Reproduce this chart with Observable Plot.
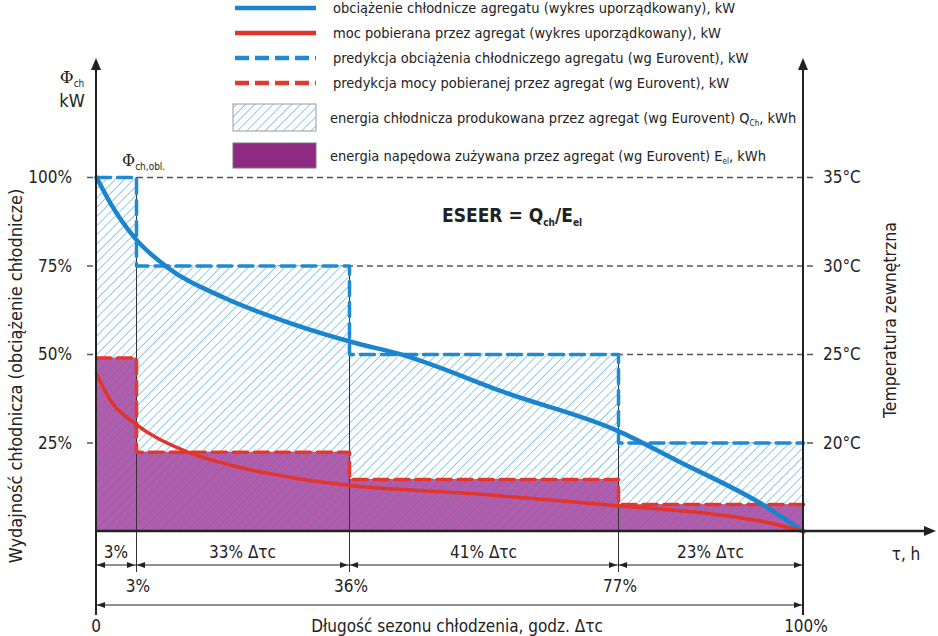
<!DOCTYPE html>
<html><head><meta charset="utf-8">
<script src="https://cdn.jsdelivr.net/npm/d3@7"></script>
<script src="https://cdn.jsdelivr.net/npm/@observablehq/plot@0.6"></script>
<style>
body{margin:0;background:#fff;}
#wrap{position:relative;width:938px;height:636px;overflow:hidden;}
#wrap svg{position:absolute;left:0;top:0;}
</style></head><body>
<svg width="0" height="0" style="position:absolute">
<defs>
<pattern id="hatchBlue" patternUnits="userSpaceOnUse" width="6.5" height="6.5" patternTransform="rotate(45)">
<rect width="6.5" height="6.5" fill="#ffffff"/>
<line x1="0" y1="0" x2="0" y2="6.5" stroke="#62b3e3" stroke-width="1.4"/>
</pattern>
<pattern id="hatchPurple" patternUnits="userSpaceOnUse" width="6.5" height="6.5" patternTransform="rotate(45)">
<rect width="6.5" height="6.5" fill="#b35ca9"/>
<line x1="0" y1="0" x2="0" y2="6.5" stroke="#7467c4" stroke-width="1.4"/>
</pattern>
</defs></svg>
<div id="wrap"></div>
<script>
// ---- data ----
const boundaries = [0, 3, 36, 77, 100];            // % of cooling season
const segmentLabels = ["3%", "33% Δτc", "41% Δτc", "23% Δτc"];
const cumulativeLabels = ["3%", "36%", "77%"];
const loadSteps = [100, 75, 50, 25];               // Eurovent load prediction, %
const powerSteps = [49, 22.4, 14.7, 7.6];          // Eurovent power prediction, %
const loadX = [0, 1.05, 2.9, 7.8, 16.5, 26.9, 37.2, 43.3, 60.1, 76.8, 84.3, 94.7, 100];
const loadY = [100, 92.7, 82.8, 74.6, 66.1, 58.8, 53.1, 50.3, 39, 28.5, 20, 7.9, 0];
const powerX = [0, 1.05, 2.9, 10.3, 19.1, 27.9, 36.15, 54.9, 76.8, 88.1, 94.3, 100];
const powerY = [44.6, 37, 30.5, 22.9, 18.1, 15, 13, 10.7, 7.3, 5.1, 3.1, 0];
const yTicks = [25, 50, 75, 100];
const yTickLabels = ["25%", "50%", "75%", "100%"];
const temps = [20, 25, 30, 35];
const tempLabels = ["20°C", "25°C", "30°C", "35°C"];
const legendItems = [
  "obciążenie chłodnicze agregatu (wykres uporządkowany), kW",
  "moc pobierana przez agregat (wykres uporządkowany), kW",
  "predykcja obciążenia chłodniczego agregatu (wg Eurovent), kW",
  "predykcja mocy pobieranej przez agregat (wg Eurovent), kW"
];

const FONT = '"Liberation Sans Narrow","DejaVu Sans Condensed","Arial Narrow",sans-serif';
const BLUE = "#1a84cf", RED = "#e3342a", DBLUE = "#1f8ad4", DRED = "#e5382c";

const segs = loadSteps.map((v, i) => ({x1: boundaries[i], x2: boundaries[i + 1], load: v, power: powerSteps[i]}));
const stepLine = vals => [...vals.map((v, i) => ({x: boundaries[i], y: v})), {x: 100, y: vals[vals.length - 1]}];
const loadCurve = loadX.map((x, i) => ({x, y: loadY[i]}));
const powerCurve = powerX.map((x, i) => ({x, y: powerY[i]}));
const inner = boundaries.slice(1, -1).map((b, i) => ({x: b, top: loadSteps[i]}));
const tempToY = t => 25 + (t - 20) * 5;

function annotations(index, scales, values, dim) {
  const X = scales.x, Y = scales.y;
  const g = d3.create("svg:g").attr("font-family", FONT).attr("fill", "#222").attr("text-anchor", "start");
  const x0 = X(0), x1 = X(100), y0 = Y(0);
  const topY = 60, botY = 615;
  const ink = "#222";
  // axes
  g.append("line").attr("x1", x0).attr("x2", x0).attr("y1", topY + 4).attr("y2", botY).attr("stroke", ink).attr("stroke-width", 2);
  g.append("line").attr("x1", x1).attr("x2", x1).attr("y1", topY + 4).attr("y2", botY).attr("stroke", ink).attr("stroke-width", 2);
  g.append("line").attr("x1", x0).attr("x2", 930).attr("y1", y0).attr("y2", y0).attr("stroke", ink).attr("stroke-width", 2.5);
  const tri = (x, y, dir, L, W) => {
    let p;
    if (dir === "up") p = [[x, y], [x - W, y + L], [x + W, y + L]];
    if (dir === "right") p = [[x, y], [x - L, y - W], [x - L, y + W]];
    if (dir === "left") p = [[x, y], [x + L, y - W], [x + L, y + W]];
    g.append("path").attr("d", "M" + p.map(q => q.join(",")).join("L") + "Z").attr("fill", ink);
  };
  tri(x0, topY - 2, "up", 12, 5);
  tri(x1, topY - 2, "up", 12, 5);
  tri(936, y0, "right", 12, 5);
  // tick labels
  yTicks.forEach((t, i) => g.append("text").attr("x", x0 - 24).attr("y", Y(t)).attr("dy", "0.36em").attr("text-anchor", "end").attr("font-size", 17).text(yTickLabels[i]));
  temps.forEach((t, i) => g.append("text").attr("x", x1 + 20).attr("y", Y(tempToY(t))).attr("dy", "0.36em").attr("text-anchor", "start").attr("font-size", 17).text(tempLabels[i]));
  // axis titles
  g.append("text").attr("transform", `translate(22,${376}) rotate(-90)`).attr("text-anchor", "middle").attr("font-size", 18).text("Wydajność chłodnicza (obciążenie chłodnicze)");
  g.append("text").attr("transform", `translate(896,${320}) rotate(-90)`).attr("text-anchor", "middle").attr("font-size", 17.5).text("Temperatura zewnętrzna");
  // Phi labels
  const t1 = g.append("text").attr("x", x0 - 24).attr("y", 83).attr("font-size", 18).attr("text-anchor", "middle");
  t1.append("tspan").text("Φ").attr("font-family", "DejaVu Serif, serif").attr("font-size", 17);
  t1.append("tspan").text("ch").attr("font-size", 10).attr("dy", 4);
  g.append("text").attr("x", x0 - 24).attr("y", 107).attr("font-size", 18).attr("text-anchor", "middle").text("kW");
  const t2 = g.append("text").attr("x", X(3) - 14).attr("y", Y(100) - 11).attr("font-size", 17).attr("text-anchor", "start");
  t2.append("tspan").text("Φ").attr("font-family", "DejaVu Serif, serif").attr("font-size", 16);
  t2.append("tspan").text("ch,obl.").attr("font-size", 10).attr("dy", 4);
  // ESEER
  const e = g.append("text").attr("x", 442).attr("y", 222).attr("font-size", 19).attr("font-weight", "bold").attr("text-anchor", "start");
  e.append("tspan").text("ESEER = Q");
  e.append("tspan").text("ch").attr("font-size", 10).attr("dy", 4);
  e.append("tspan").text("/E").attr("dy", -4);
  e.append("tspan").text("el").attr("font-size", 10).attr("dy", 4);
  // dimension rows
  const r1 = 565, r3 = 605;
  const dimLine = (a, b, y) => {
    g.append("line").attr("x1", a).attr("x2", b).attr("y1", y).attr("y2", y).attr("stroke", ink).attr("stroke-width", 1);
    tri(a + 1, y, "left", 8, 3);
    tri(b - 1, y, "right", 8, 3);
  };
  for (let i = 0; i < boundaries.length - 1; i++) {
    const a = X(boundaries[i]), b = X(boundaries[i + 1]);
    dimLine(a, b, r1);
    g.append("text").attr("x", (a + b) / 2).attr("y", r1 - 7).attr("text-anchor", "middle").attr("font-size", 17).text(segmentLabels[i]);
  }
  boundaries.slice(1, -1).forEach((b, i) => g.append("text").attr("x", X(b) + 2).attr("y", 592).attr("text-anchor", "middle").attr("font-size", 17).text(cumulativeLabels[i]));
  dimLine(x0, x1, r3);
  g.append("text").attr("x", x0).attr("y", 632).attr("text-anchor", "middle").attr("font-size", 17).text("0");
  g.append("text").attr("x", x1 + 3).attr("y", 632).attr("text-anchor", "middle").attr("font-size", 17).text("100%");
  g.append("text").attr("x", 457).attr("y", 632).attr("text-anchor", "middle").attr("font-size", 17).text("Długość sezonu chłodzenia, godz. Δτc");
  g.append("text").attr("x", 906).attr("y", 560).attr("text-anchor", "middle").attr("font-size", 17).text("τ, h");
  return g.node();
}

const plot = Plot.plot({
  width: 938, height: 636,
  marginLeft: 96, marginRight: 135, marginTop: 177, marginBottom: 105,
  x: {type: "linear", domain: boundaries, range: [96, 136, 349, 618, 803], axis: null},
  y: {domain: [0, 100], axis: null},
  style: {fontFamily: FONT, background: "transparent", overflow: "visible"},
  marks: [
    Plot.ruleY(yTicks, {stroke: "#555", strokeDasharray: "6,4", strokeWidth: 1.3, insetLeft: -9, insetRight: -13}),
    Plot.rect(segs, {x1: "x1", x2: "x2", y1: 0, y2: "load", fill: "url(#hatchBlue)"}),
    Plot.rect(segs, {x1: "x1", x2: "x2", y1: 0, y2: "power", fill: "url(#hatchPurple)"}),
    Plot.ruleX(inner, {x: "x", y1: "top", y2: 0, stroke: "#333", strokeWidth: 1, insetBottom: -41}),
    Plot.line(stepLine(loadSteps), {x: "x", y: "y", curve: "step-after", stroke: DBLUE, strokeWidth: 3.5, strokeDasharray: "14,7"}),
    Plot.line(stepLine(powerSteps), {x: "x", y: "y", curve: "step-after", stroke: DRED, strokeWidth: 3.5, strokeDasharray: "14,7"}),
    Plot.line(loadCurve, {x: "x", y: "y", curve: "monotone-x", stroke: BLUE, strokeWidth: 4.5}),
    Plot.line(powerCurve, {x: "x", y: "y", curve: "monotone-x", stroke: RED, strokeWidth: 3.5}),
    annotations
  ]
});
document.getElementById("wrap").appendChild(plot);

// legend overlay
const leg = d3.select("#wrap").append("svg").attr("width", 938).attr("height", 175).style("pointer-events", "none")
  .attr("font-family", FONT).attr("font-size", 14.5).attr("fill", "#222");
const rowsY = [8, 33, 58, 83];
const styles = [[BLUE, null], [RED, null], [DBLUE, "14,6"], [DRED, "14,6"]];
legendItems.forEach((txt, i) => {
  leg.append("line").attr("x1", 235).attr("x2", 316).attr("y1", rowsY[i]).attr("y2", rowsY[i])
    .attr("stroke", styles[i][0]).attr("stroke-width", 4.5).attr("stroke-dasharray", styles[i][1]);
  leg.append("text").attr("x", 333).attr("y", rowsY[i]).attr("dy", "0.36em").text(txt);
});
leg.append("rect").attr("x", 233).attr("y", 104).attr("width", 83).attr("height", 27).attr("fill", "url(#hatchBlue)").attr("stroke", "#999").attr("stroke-width", 1);
const l5 = leg.append("text").attr("x", 330).attr("y", 118).attr("dy", "0.36em");
l5.append("tspan").text("energia chłodnicza produkowana przez agregat (wg Eurovent) Q");
l5.append("tspan").text("Ch").attr("font-size", 8).attr("dy", 3);
l5.append("tspan").text(", kWh").attr("dy", -3);
leg.append("rect").attr("x", 233).attr("y", 143).attr("width", 83).attr("height", 25).attr("fill", "#8e2a82").attr("stroke", "#777").attr("stroke-width", 1);
const l6 = leg.append("text").attr("x", 330).attr("y", 156).attr("dy", "0.36em");
l6.append("tspan").text("energia napędowa zużywana przez agregat (wg Eurovent) E");
l6.append("tspan").text("el").attr("font-size", 8).attr("dy", 3);
l6.append("tspan").text(", kWh").attr("dy", -3);
</script>
</body></html>
